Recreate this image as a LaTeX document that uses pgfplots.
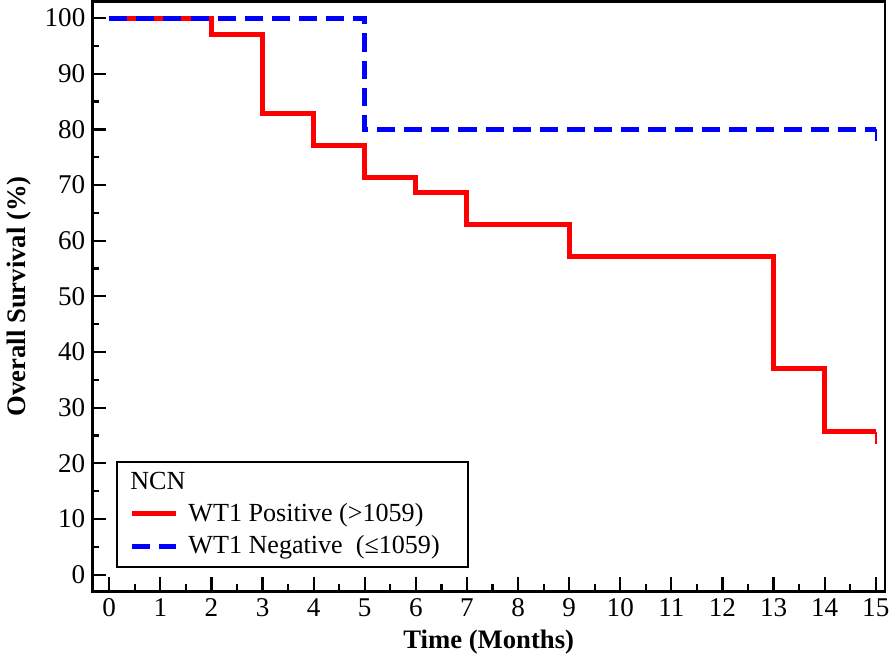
\documentclass[border=0pt]{standalone}
\usepackage{fontspec}
\setmainfont{Liberation Serif}
\usepackage{pgfplots}
\pgfplotsset{compat=1.18}
\begin{document}
\begin{tikzpicture}
\begin{axis}[
  scale only axis,
  width=395pt, height=294pt,
  xmin=-0.33, xmax=15.18,
  ymin=-3, ymax=103,
  xtick={0,...,15},
  ytick={0,10,...,100},
  minor x tick num=1,
  minor y tick num=1,
  tick align=inside,
  xtick pos=bottom, ytick pos=left,
  major tick length=7pt, minor tick length=3.5pt,
  axis line style={line width=1.4pt},
  every tick/.style={black, line width=1.1pt},
  tick label style={font=\fontsize{13.5}{15}\selectfont},
  /pgf/number format/assume math mode=true,
  xlabel={Time (Months)},
  ylabel={Overall Survival (\%)},
  label style={font=\fontsize{13.3}{15}\selectfont\bfseries},
  legend cell align=left,
  legend style={at={(0.03,0.04)}, anchor=south west, draw=black,
    line width=1.1pt, font=\fontsize{13}{16}\selectfont,
    inner xsep=6pt, inner ysep=3pt, row sep=1.5pt},
  legend image code/.code={\draw[#1] (0pt,0pt) -- (22pt,0pt);},
]
\addlegendimage{empty legend}
\addlegendentry{\hspace*{-26pt}NCN}

% WT1 positive
\addplot[red, line width=2.5pt, const plot] coordinates {
  (0,100) (2,97.1) (3,82.9) (4,77.1) (5,71.4) (6,68.6) (7,62.9)
  (9,57.1) (13,37.1) (14,25.7) (15,25.7)
};
\addlegendentry{\hspace*{3pt}WT1 Positive (>1059)}
\addplot[red, line width=1pt, forget plot] coordinates {(15,25.7) (15,23.5)};

% WT1 negative
\addplot[blue, line width=2.5pt, dash pattern=on 9pt off 4.5pt, const plot] coordinates {
  (0,100) (5,80) (15,80)
};
\addlegendentry{\hspace*{3pt}WT1 Negative\ \ (≤1059)\hspace*{6pt}}
\addplot[blue, line width=1pt, forget plot] coordinates {(15,80) (15,78)};
\end{axis}
\end{tikzpicture}
\end{document}
